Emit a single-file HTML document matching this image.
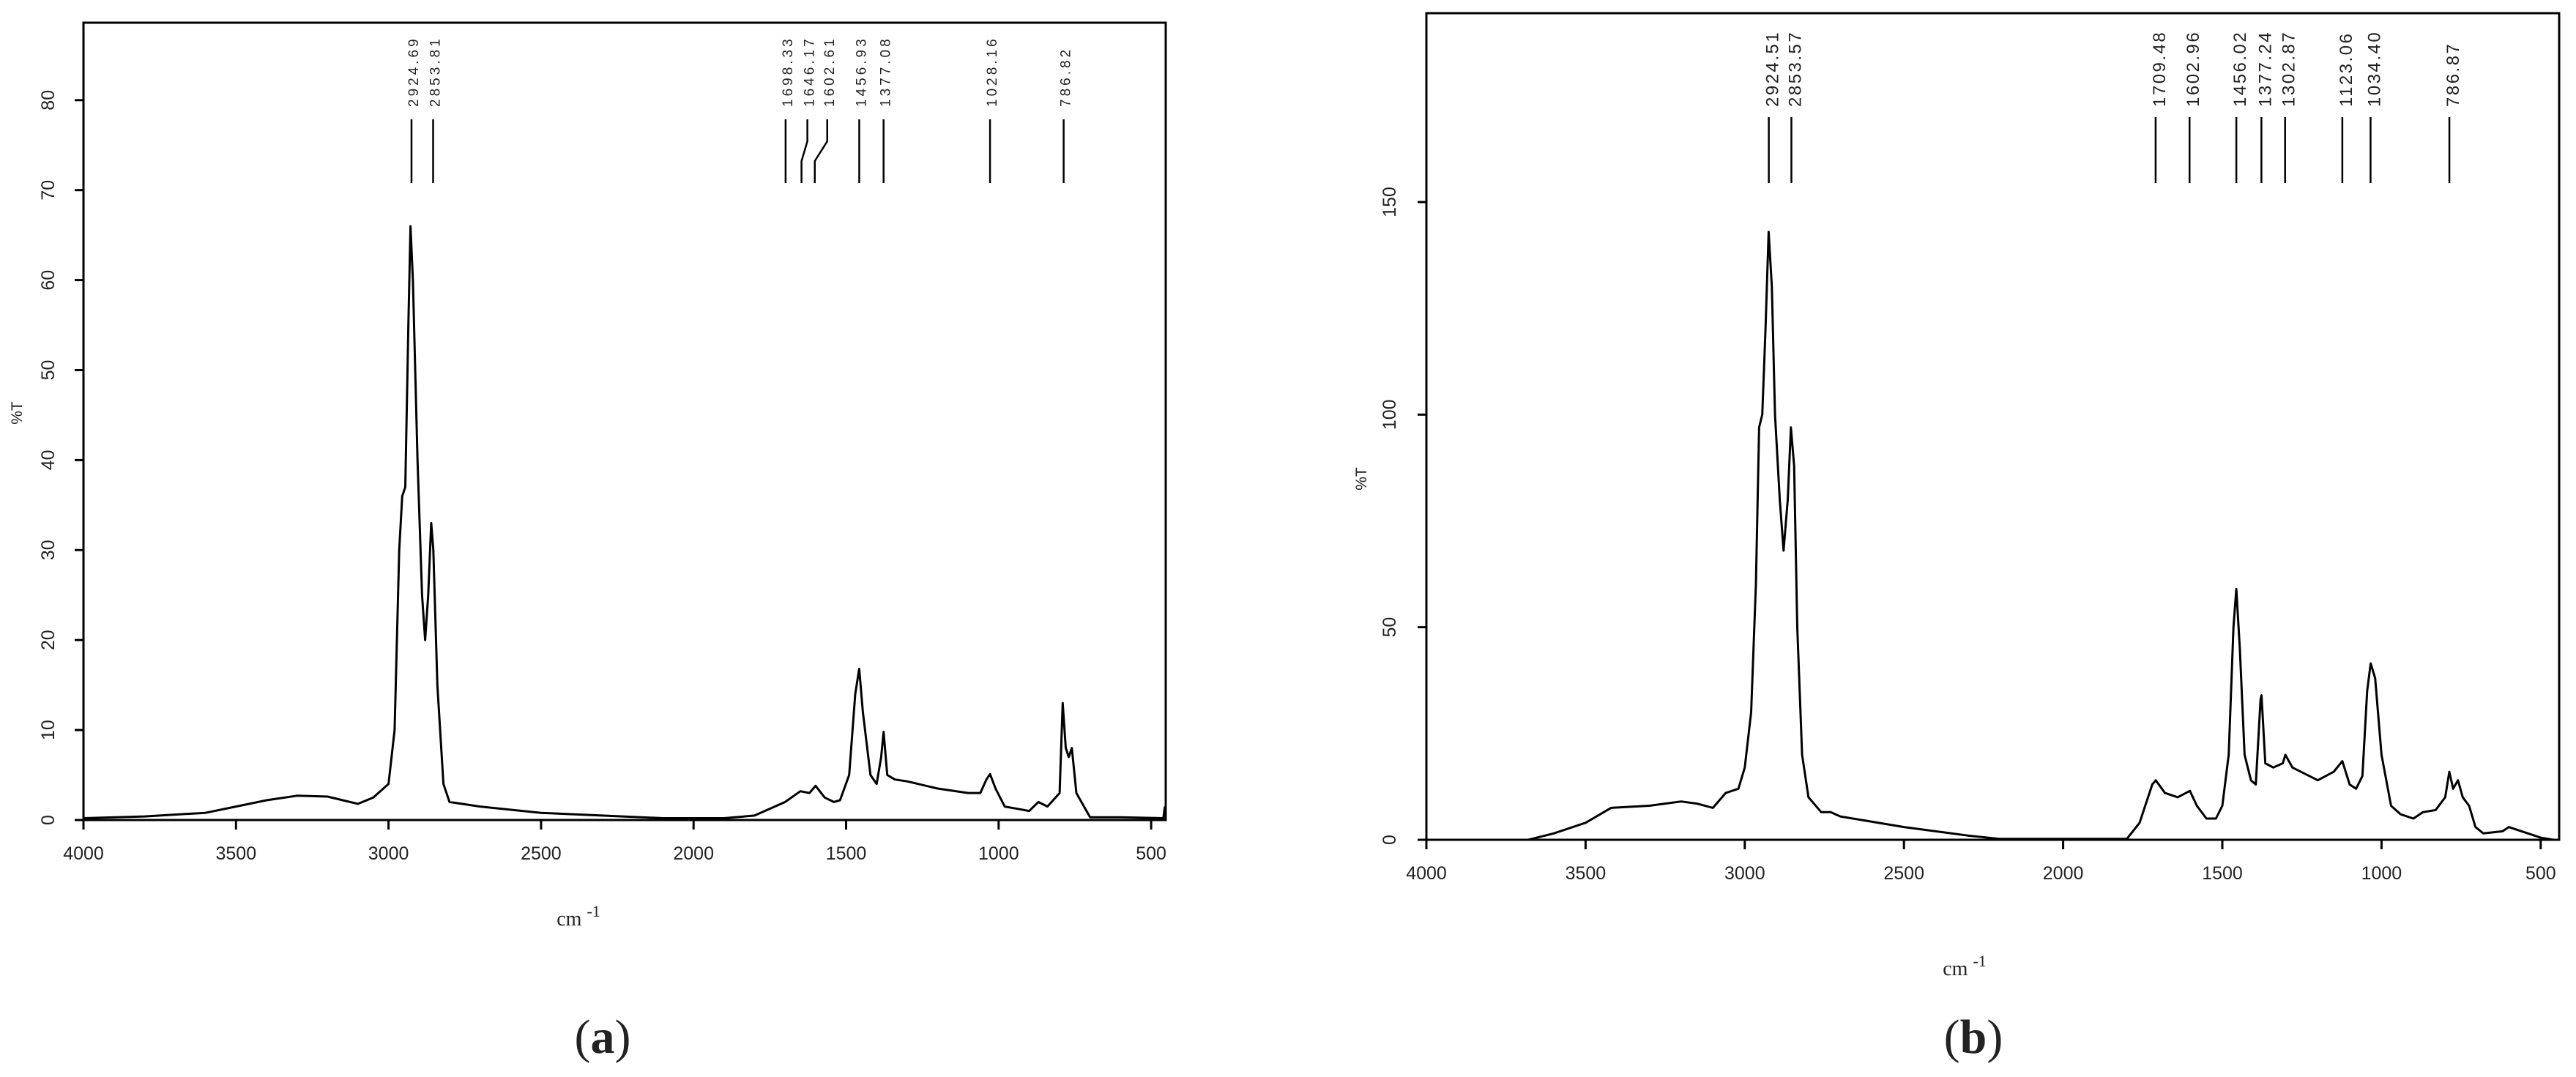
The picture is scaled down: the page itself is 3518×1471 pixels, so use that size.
<!DOCTYPE html>
<html><head><meta charset="utf-8">
<style>
html,body{margin:0;padding:0;background:#fff;}
svg{display:block;}
text{font-family:"Liberation Sans",sans-serif;fill:#222;}
.ser{font-family:"Liberation Serif",serif;}
</style></head>
<body>
<svg id="fig" width="3518" height="1471" viewBox="0 0 3518 1471" xmlns="http://www.w3.org/2000/svg"></svg>
<script>
// ---- Panel (a) data ----
const aWavenumbers = [4000,3800,3700,3600,3500,3400,3300,3200,3150,3100,3050,3000,2980,2965,2955,2945,2935,2928,2920,2905,2890,2880,2870,2860,2853,2840,2820,2800,2700,2500,2300,2100,1900,1800,1700,1650,1620,1600,1570,1540,1520,1490,1470,1457,1445,1420,1400,1385,1377,1365,1340,1300,1200,1100,1060,1040,1028,1010,980,930,900,870,840,800,790,780,770,760,745,720,700,600,460,455];
const aValues = [0.2,0.4,0.6,0.8,1.5,2.2,2.7,2.6,2.2,1.8,2.5,4,10,30,36,37,55,66,60,40,25,20,25,33,30,15,4,2,1.5,0.8,0.5,0.2,0.2,0.5,2,3.2,3.0,3.8,2.5,2,2.2,5,14,16.8,12,5,4,7,9.8,5,4.5,4.3,3.5,3.0,3,4.5,5.1,3.5,1.5,1.2,1,2,1.5,3,13,8,7,8,3,1.5,0.3,0.3,0.2,1.5];
const aYTicks = [0,10,20,30,40,50,60,70,80];
const aXTicks = [4000,3500,3000,2500,2000,1500,1000,500];
const aPeaks = ["2924.69","2853.81","1698.33","1646.17","1602.61","1456.93","1377.08","1028.16","786.82"];
const aPeakShift = [0,0,0,8,17,0,0,0,0];

// ---- Panel (b) data ----
const bWavenumbers = [3680,3600,3500,3420,3300,3200,3150,3100,3060,3020,3000,2980,2965,2955,2945,2935,2925,2915,2905,2890,2878,2865,2855,2845,2835,2820,2800,2760,2730,2700,2500,2300,2200,1800,1760,1720,1709,1680,1640,1602,1580,1550,1520,1500,1480,1465,1456,1445,1430,1410,1395,1380,1377,1365,1340,1310,1302,1280,1200,1150,1123,1100,1080,1060,1045,1034,1020,1000,970,940,900,870,830,800,787,775,760,745,735,725,705,680,620,600,560,500,460];
const bValues = [0,1.5,4,7.5,8,9,8.5,7.5,11,12,17,30,60,97,100,120,143,130,100,80,68,80,97,88,50,20,10,6.5,6.5,5.5,3,1,0.2,0.2,4,13,14,11,10,11.5,8,5,5,8,20,50,59,45,20,14,13,33,34,18,17,18,20,17,14,16,18.5,13,12,15,35,41.5,38,20,8,6,5,6.5,7,10,16,12,14,10,9,8,3,1.5,2,3,2,0.5,0];
const bYTicks = [0,50,100,150];
const bXTicks = [4000,3500,3000,2500,2000,1500,1000,500];
const bPeaks = ["2924.51","2853.57","1709.48","1602.96","1456.02","1377.24","1302.87","1123.06","1034.40","786.87"];

const NS = "http://www.w3.org/2000/svg";
const svg = document.getElementById('fig');
function mk(tag, attrs, parent){
  const e = document.createElementNS(NS, tag);
  for (const k in attrs) e.setAttribute(k, attrs[k]);
  (parent||svg).appendChild(e);
  return e;
}

function panel(cfg){
  const g = mk('g', {});
  
  
  const X = wn => cfg.x0 + (cfg.wnL - wn) * cfg.pxPerWn;
  const Y = v => cfg.y0 - v * cfg.pxPerVal;
  const fr = mk('rect', {x:cfg.left, y:cfg.top, width:cfg.right-cfg.left, height:cfg.y0-cfg.top, fill:'none', stroke:'#000', 'stroke-width':3}, g);
  
  
  cfg.xTicks.forEach(t => {
    const x = X(t);
    const tk = mk('line', {x1:x, x2:x, y1:cfg.y0, y2:cfg.y0+13, stroke:'#000', 'stroke-width':3}, g);
    
    
    const tl = mk('text', {x:x, y:cfg.y0+54, 'font-size':25, 'text-anchor':'middle'}, g);
    tl.textContent = t;
    
    
  });
  cfg.yTicks.forEach(t => {
    const y = Y(t);
    const tk = mk('line', {x1:cfg.left-12, x2:cfg.left, y1:y, y2:y, stroke:'#000', 'stroke-width':3}, g);
    
    
    const tl = mk('text', {x:0, y:0, 'font-size':25, 'text-anchor':'middle', transform:`translate(${cfg.yLabX},${y}) rotate(-90)`}, g);
    tl.textContent = t;
    
    
  });
  const yt = mk('text', {x:0, y:0, 'font-size':21, 'text-anchor':'middle', transform:`translate(${cfg.yTitle[0]},${cfg.yTitle[1]}) rotate(-90)`}, g);
  yt.textContent = '%T';
  
  
  const xt = mk('text', {x:cfg.xTitle[0], y:cfg.xTitle[1], 'font-size':28, 'text-anchor':'middle', class:'ser'}, g);
  xt.innerHTML = 'cm <tspan dy="-12" font-size="22">-1</tspan>';
  
  
  let d = '';
  cfg.wns.forEach((w,i) => { d += (i?'L':'M') + X(w).toFixed(1) + ' ' + Y(cfg.vals[i]).toFixed(1) + ' '; });
  const p = mk('path', {d:d, fill:'none', stroke:'#000', 'stroke-width':3, 'stroke-linejoin':'round'}, g);
  
  
  cfg.peaks.forEach((lab,i) => {
    const wn = parseFloat(lab);
    const xb = X(wn);
    const xt2 = xb + (cfg.shift ? cfg.shift[i] : 0);
    const ln = mk('path', {d:`M${xb} ${cfg.lineBot} L${xb} ${cfg.lineBot-30} L${xt2} ${cfg.lineTop+30} L${xt2} ${cfg.lineTop}`, fill:'none', stroke:'#000', 'stroke-width':2.5}, g);
    
    
    const tx = mk('text', {x:0, y:0, 'font-size':cfg.labFont, 'letter-spacing':cfg.labSpacing, 'text-anchor':'start', transform:`translate(${xt2+cfg.labOff},${cfg.labBot}) rotate(-90)`}, g);
    tx.textContent = lab;
    
    
  });
  const cap = mk('text', {x:cfg.cap[0], y:cfg.cap[1], 'font-size':66, 'text-anchor':'middle', class:'ser'}, g);
  cap.innerHTML = '(<tspan font-weight="bold">' + cfg.capText + '</tspan>)';
  
  
}

panel({name:'panel-a', left:114, right:1592, top:31, y0:1120, x0:114, wnL:4000, pxPerWn:208.3/500, pxPerVal:12.29,
  wns:aWavenumbers, vals:aValues, xTicks:aXTicks, yTicks:aYTicks, peaks:aPeaks, shift:aPeakShift,
  yLabX:74, yTitle:[30,564], xTitle:[790,1264], lineTop:163, lineBot:250, labBot:146, labFont:19, labSpacing:4, labOff:9,
  cap:[823,1438], capText:'a'});

panel({name:'panel-b', left:1948, right:3495, top:18, y0:1147, x0:1948, wnL:4000, pxPerWn:217.4/500, pxPerVal:5.807,
  wns:bWavenumbers, vals:bValues, xTicks:bXTicks, yTicks:bYTicks, peaks:bPeaks,
  yLabX:1906, yTitle:[1866,654], xTitle:[2683,1332], lineTop:160, lineBot:250, labBot:146, labFont:24, labSpacing:2.5, labOff:13,
  cap:[2695,1438], capText:'b'});
</script>
</body></html>
